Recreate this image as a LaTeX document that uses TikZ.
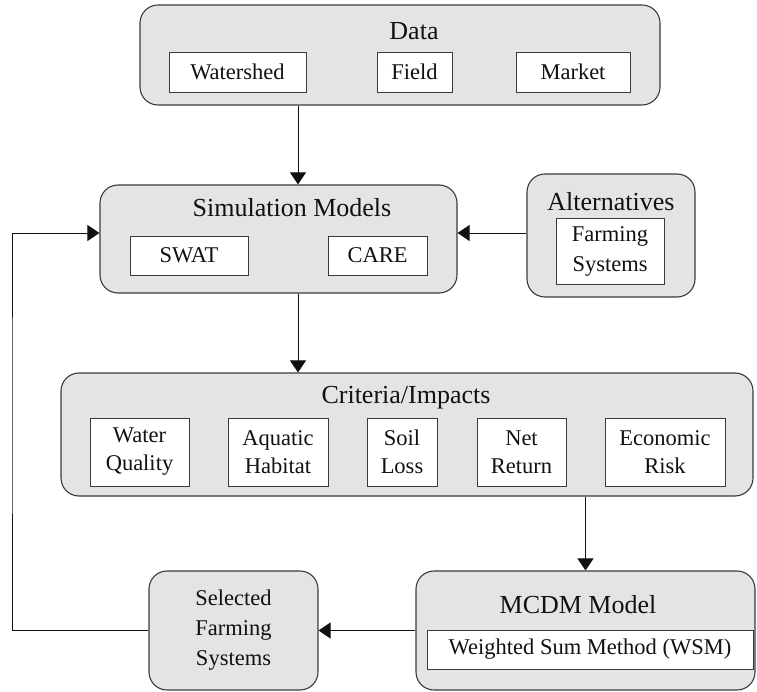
\documentclass[tikz,border=0pt]{standalone}
\usepackage{fontspec}
\setmainfont{LiberationSerif}[Extension=.ttf,UprightFont=*-Regular,BoldFont=*-Bold,ItalicFont=*-Italic]
\usetikzlibrary{arrows.meta,calc}
\definecolor{Panel}{HTML}{E4E4E4}
\definecolor{Edge}{HTML}{3A3A3A}
\definecolor{Ink}{HTML}{111111}

\begin{document}
\begin{tikzpicture}[x=1pt,y=-1pt,>={Triangle[length=12pt,width=16pt]},every node/.style={text=Ink},flow/.style={->,line width=0.9pt,draw=Ink},panel/.style={draw=Edge,fill=Panel,line width=1.1pt,rounded corners=18pt,inner sep=0pt},itembox/.style={draw=Edge,fill=white,line width=0.9pt,inner sep=0pt,align=center,font=\fontsize{22.5}{28}\selectfont},heading/.style={font=\fontsize{26}{30}\selectfont}]
\useasboundingbox (0,0) rectangle (757,692);
\newcommand{\ibox}[5]{\node[itembox,minimum width=#3pt,minimum height=#4pt](#1) at (#2){#5};}
% outer panels
\node[panel,minimum width=520pt,minimum height=100pt](Data) at (400,55){};
\node[panel,minimum width=357pt,minimum height=108pt](Sim) at (278.5,239){};
\node[panel,minimum width=168pt,minimum height=123pt](Alt) at (611,235.5){};
\node[panel,minimum width=692pt,minimum height=123pt](Crit) at (407,434.5){};
\node[panel,minimum width=339pt,minimum height=119pt](MCDM) at (585.5,630.5){};
\node[panel,minimum width=169pt,minimum height=119pt,align=center,font=\fontsize{22.5}{30}\selectfont](Sel) at (233.5,630.5){Selected\\Farming\\Systems};
% headings
\node[heading](DataT) at (414,31){Data};
\node[heading](SimT) at (292,208){Simulation Models};
\node[heading](AltT) at (611,202){Alternatives};
\node[heading](CritT) at (406,398){Criteria/Impacts};
\node[heading](MCDMT) at (578,605){MCDM Model};
% inner boxes
\ibox{ws}{237.5,72}{137}{40}{Watershed}
\ibox{fld}{414.5,72}{75}{40}{Field}
\ibox{mkt}{573,72}{114}{40}{Market}
\ibox{swat}{189,255.5}{118}{39}{SWAT}
\ibox{care}{377.5,255.5}{99}{39}{CARE}
\node[itembox,minimum width=108pt,minimum height=66pt,font=\fontsize{22.5}{30}\selectfont](fs) at (610,251){Farming\\Systems};
\ibox{wq}{139.5,452}{99}{68}{Water\\Quality}
\ibox{ah}{278,452}{100}{68}{Aquatic\\Habitat}
\ibox{sl}{402,452}{70}{68}{Soil\\Loss}
\ibox{nr}{521.5,452}{89}{68}{Net\\Return}
\ibox{er}{665,452}{120}{68}{Economic\\Risk}
\ibox{wsm}{590,649.5}{326}{39}{Weighted Sum Method (WSM)}
% connectors
\coordinate (simin) at ($(Sim.north)+(19.5,0)$);
\coordinate (simleft) at ([yshift=6pt]Sim.west);
\coordinate (loop) at (12,400);
\draw[flow] (Data.south -| simin) -- (simin);
\draw[flow] (simin |- Sim.south) -- (simin |- Crit.north);
\draw[flow] (Alt.west |- simleft) -- (Sim.east |- simleft);
\draw[flow] (Crit.south -| MCDM.north) -- (MCDM.north);
\draw[flow] (MCDM.west) -- (Sel.east |- MCDM.west);
\draw[flow] (Sel.west) -| (loop) |- (simleft);
\end{tikzpicture}
\end{document}
